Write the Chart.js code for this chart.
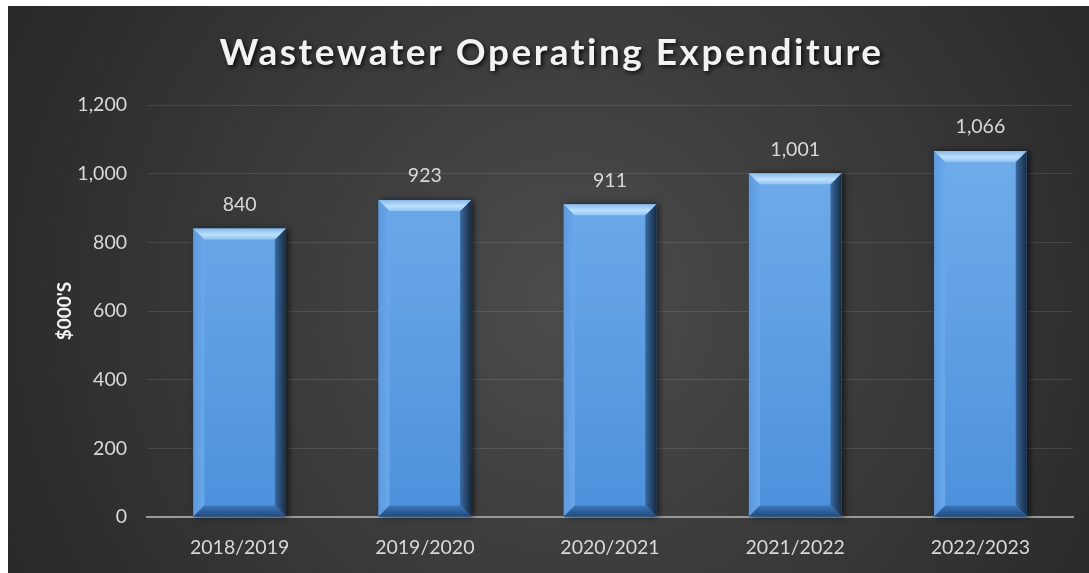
<!DOCTYPE html>
<html>
<head>
<meta charset="utf-8">
<script src="https://cdn.jsdelivr.net/npm/chart.js@4.4.1/dist/chart.umd.min.js"></script>
<style>
html, body { margin: 0; padding: 0; background: #fff; }
#wrap { position: absolute; left: 8px; top: 6px; width: 1081px; height: 567px; }
</style>
</head>
<body>
<div id="wrap"><canvas id="chart"></canvas></div>
<script>
const chartTitle = 'Wastewater Operating Expenditure';
const yAxisTitle = "$000'S";
const categories = ['2018/2019', '2019/2020', '2020/2021', '2021/2022', '2022/2023'];
const expenditure = [840, 923, 911, 1001, 1066];

const fontFamily = 'Lato, "Open Sans", sans-serif';
const textColor = '#d9d9d9';

// dark radial backdrop
const backdrop = {
    id: 'backdrop',
    beforeDraw(chart) {
        const {ctx, width, height} = chart;
        const g = ctx.createRadialGradient(width * 0.52, height * 0.52, 0, width * 0.52, height * 0.52, width * 0.62);
        g.addColorStop(0, '#4c4c4c');
        g.addColorStop(1, '#262626');
        ctx.save();
        ctx.fillStyle = g;
        ctx.fillRect(0, 0, width, height);
        ctx.restore();
    }
};

// drop shadow behind bars
const barShadow = {
    id: 'barShadow',
    beforeDatasetsDraw(chart) {
        const {ctx} = chart;
        ctx.save();
        chart.getDatasetMeta(0).data.forEach(bar => {
            const {x, y, base, width} = bar.getProps(['x', 'y', 'base', 'width'], true);
            ctx.shadowColor = 'rgba(0,0,0,0.6)';
            ctx.shadowBlur = 6;
            ctx.shadowOffsetX = 3;
            ctx.shadowOffsetY = 0;
            ctx.fillStyle = '#1a1a1a';
            ctx.fillRect(x - width / 2, y, width, base - y);
        });
        ctx.restore();
    }
};

// bevelled edges + value labels
const bevel = {
    id: 'bevel',
    afterDatasetsDraw(chart) {
        const {ctx} = chart;
        const d = 11;
        ctx.save();
        chart.getDatasetMeta(0).data.forEach((bar, i) => {
            const {x, y, base, width} = bar.getProps(['x', 'y', 'base', 'width'], true);
            const l = x - width / 2, r = x + width / 2, t = y, b = base;

            const poly = (pts, fill) => {
                ctx.beginPath();
                ctx.moveTo(pts[0][0], pts[0][1]);
                pts.slice(1).forEach(p => ctx.lineTo(p[0], p[1]));
                ctx.closePath();
                ctx.fillStyle = fill;
                ctx.fill();
            };

            const lg = ctx.createLinearGradient(l, 0, l + d, 0);
            lg.addColorStop(0, '#5b9ae0');
            lg.addColorStop(1, '#6aa8ea');
            poly([[l, t], [l + d, t + d], [l + d, b - d], [l, b]], lg);

            const rg = ctx.createLinearGradient(r - d, 0, r, 0);
            rg.addColorStop(0, '#3a6aa0');
            rg.addColorStop(1, '#172c44');
            poly([[r, t], [r, b], [r - d, b - d], [r - d, t + d]], rg);

            const bg = ctx.createLinearGradient(0, b - d, 0, b);
            bg.addColorStop(0, '#3a78bd');
            bg.addColorStop(1, '#224a78');
            poly([[l, b], [r, b], [r - d, b - d], [l + d, b - d]], bg);

            const tg = ctx.createLinearGradient(0, t, 0, t + d);
            tg.addColorStop(0, '#86bbee');
            tg.addColorStop(0.55, '#bde0fc');
            tg.addColorStop(1, '#92c4f2');
            poly([[l, t], [r, t], [r - d, t + d], [l + d, t + d]], tg);

            ctx.fillStyle = textColor;
            ctx.font = '19.5px ' + fontFamily;
            ctx.textAlign = 'center';
            ctx.textBaseline = 'middle';
            ctx.fillText(expenditure[i].toLocaleString('en-US'), x, t - 24);
        });
        ctx.restore();
    }
};

// title with soft shadow
const heading = {
    id: 'heading',
    afterDraw(chart) {
        const {ctx, width} = chart;
        ctx.save();
        ctx.font = 'bold 37px ' + fontFamily;
        if ('letterSpacing' in ctx) ctx.letterSpacing = '2.5px';
        ctx.textAlign = 'center';
        ctx.textBaseline = 'middle';
        ctx.shadowColor = 'rgba(0,0,0,0.8)';
        ctx.shadowBlur = 4;
        ctx.shadowOffsetX = 2;
        ctx.shadowOffsetY = 2;
        ctx.fillStyle = '#f2f2f2';
        ctx.fillText(chartTitle, width / 2 + 3, 47);
        ctx.restore();
    }
};

const ctx = document.getElementById('chart').getContext('2d');
new Chart(ctx, {
    type: 'bar',
    data: {
        labels: categories,
        datasets: [{
            data: expenditure,
            backgroundColor: (c) => {
                const area = c.chart.chartArea;
                if (!area) return '#6aa8e8';
                const g = c.chart.ctx.createLinearGradient(0, area.top, 0, area.bottom);
                g.addColorStop(0, '#74afeb');
                g.addColorStop(1, '#4c91dc');
                return g;
            },
            borderWidth: 0,
            barPercentage: 0.5,
            categoryPercentage: 1
        }]
    },
    options: {
        responsive: true,
        maintainAspectRatio: false,
        animation: false,
        layout: { padding: { top: 99, right: 16, left: 0, bottom: 0 } },
        plugins: {
            legend: { display: false },
            tooltip: { enabled: false }
        },
        scales: {
            x: {
                afterFit: (s) => { s.height = 56; },
                grid: { display: false, drawTicks: false },
                border: { display: true, color: '#9a9a9a', width: 2 },
                ticks: { color: textColor, font: { family: fontFamily, size: 19.5 }, padding: 19 }
            },
            y: {
                min: 0,
                max: 1200,
                afterFit: (s) => { s.width = 139; },
                grid: { color: 'rgba(255,255,255,0.10)', drawTicks: false },
                border: { display: false },
                ticks: { stepSize: 200, color: textColor, font: { family: fontFamily, size: 19.5 }, padding: 20 },
                title: {
                    display: true,
                    text: yAxisTitle,
                    color: '#f2f2f2',
                    font: { family: fontFamily, size: 19, weight: 'bold' },
                    padding: { top: 45, bottom: 0 }
                }
            }
        }
    },
    plugins: [backdrop, barShadow, bevel, heading]
});
</script>
</body>
</html>
